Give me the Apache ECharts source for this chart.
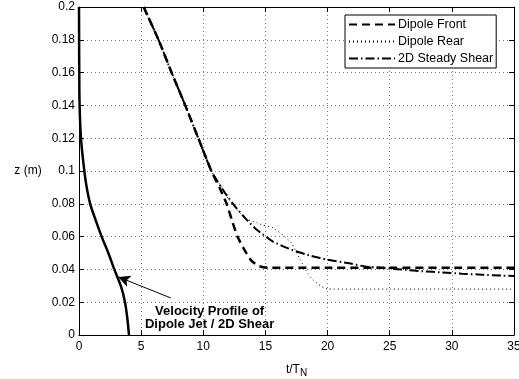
<!DOCTYPE html>
<html>
<head>
<meta charset="utf-8">
<script src="https://cdn.jsdelivr.net/npm/echarts@6/dist/echarts.min.js"></script>
<style>html,body{margin:0;padding:0;background:#fff}#c{width:519px;height:379px}</style>
</head>
<body>
<div id="c"></div>
<script>
// Data: [t/T_N, z (m)]
var seriesNames = ['Dipole Front', 'Dipole Rear', '2D Steady Shear'];
var xTicks = [0, 5, 10, 15, 20, 25, 30, 35];
var yTicks = [0, 0.02, 0.04, 0.06, 0.08, 0.1, 0.12, 0.14, 0.16, 0.18, 0.2];
var dipoleFront = [[5.2,0.2],[6.4,0.18],[7.45,0.16],[8.55,0.14],[9.6,0.12],[10.65,0.1],[11.3,0.09],[11.88,0.08],[12.3,0.07],[12.75,0.06],[13.3,0.052],[13.9,0.045],[14.5,0.042],[15.2,0.041],[20,0.041],[25,0.041],[30,0.041],[35,0.041]];
var dipoleRear = [[5.2,0.2],[6.4,0.18],[7.45,0.16],[8.55,0.14],[9.6,0.12],[10.65,0.1],[11.35,0.0917],[12.15,0.0815],[13.35,0.0713],[14.3,0.0685],[14.8,0.067],[15.6,0.0655],[16.4,0.061],[17.1,0.056],[17.8,0.046],[18.3,0.039],[18.8,0.0337],[19.5,0.0296],[20,0.028],[25,0.028],[30,0.028],[35,0.028]];
var steadyShear = [[5.2,0.2],[6.4,0.18],[7.45,0.16],[8.55,0.14],[9.6,0.12],[10.65,0.1],[11.75,0.0866],[12.6,0.078],[13.4,0.071],[14.3,0.0642],[15.6,0.057],[17.1,0.052],[18.6,0.0484],[20,0.0459],[21.6,0.0439],[23,0.0418],[24.5,0.0408],[26.1,0.0398],[27.7,0.0388],[29.2,0.0382],[30.8,0.0374],[32.4,0.0368],[34,0.0362],[35,0.036]];
var velocityProfile = [[4.02,0],[3.9,0.0093],[3.7,0.02],[3.38,0.0296],[2.84,0.04],[2.36,0.05],[1.82,0.06],[1.34,0.07],[0.9,0.08],[0.62,0.09],[0.43,0.1],[0.16,0.12],[0.05,0.14],[0.02,0.16],[0.01,0.18],[0.0,0.2]];
var annotationText = 'Velocity Profile of\nDipole Jet / 2D Shear';

var chart = echarts.init(document.getElementById('c'), null, {renderer: 'canvas'});
var font = 'Liberation Sans, Arial, Helvetica, sans-serif';
var gridLine = {show: true, lineStyle: {color: '#7a7a7a', width: 1, type: [1, 3]}};
var axisLine = {show: true, onZero: false, lineStyle: {color: '#000', width: 1}};
var tick = {show: true, inside: true, length: 5, lineStyle: {color: '#000'}};
chart.setOption({
  animation: false,
  backgroundColor: '#fff',
  textStyle: {fontFamily: font},
  grid: {left: 79, right: 5, top: 7, bottom: 44, containLabel: false, outerBoundsMode: 'none'},
  legend: {
    data: seriesNames,
    orient: 'vertical',
    left: 345, top: 15,
    padding: [3, 3, 3, 3],
    itemWidth: 46, itemHeight: 14, itemGap: 4,
    backgroundColor: '#fff',
    borderColor: '#000', borderWidth: 1,
    itemStyle: {opacity: 0},
    textStyle: {fontSize: 12.5, color: '#000', fontFamily: font, width: 111, overflow: 'none', padding: [0, 0, 0, -2]}
  },
  xAxis: [{
    type: 'value', min: xTicks[0], max: xTicks[xTicks.length - 1], interval: 5,
    name: '{a|t/T}{b|N}', nameLocation: 'middle', nameGap: 24,
    nameTextStyle: {rich: {a: {fontSize: 12, color: '#000', fontFamily: font, verticalAlign: 'top', lineHeight: 14}, b: {fontSize: 10, color: '#000', fontFamily: font, verticalAlign: 'bottom', lineHeight: 14, padding: [10, 0, 0, 0]}}},
    axisLine: axisLine, axisTick: tick,
    axisLabel: {color: '#000', fontSize: 12, margin: 6, fontFamily: font},
    splitLine: gridLine
  }, {
    type: 'value', position: 'top', min: xTicks[0], max: xTicks[xTicks.length - 1], interval: 5,
    axisLine: axisLine, axisTick: tick, axisLabel: {show: false}, splitLine: {show: false}
  }],
  yAxis: [{
    type: 'value', min: yTicks[0], max: yTicks[yTicks.length - 1], interval: 0.02,
    name: 'z (m)', nameLocation: 'middle', nameRotate: 0, nameGap: 51,
    nameTextStyle: {fontSize: 12, color: '#000', align: 'center', verticalAlign: 'middle', fontFamily: font},
    axisLine: axisLine, axisTick: tick,
    axisLabel: {color: '#000', fontSize: 12, margin: 4, fontFamily: font},
    splitLine: gridLine
  }, {
    type: 'value', position: 'right', min: yTicks[0], max: yTicks[yTicks.length - 1], interval: 0.02,
    axisLine: axisLine, axisTick: tick, axisLabel: {show: false}, splitLine: {show: false}
  }],
  series: [{
    name: 'Velocity Profile', type: 'line', data: velocityProfile, smooth: 0.4,
    symbol: 'none', lineStyle: {color: '#000', width: 2.5}, z: 3,
    markLine: {
      silent: true, symbol: ['none', 'arrow'], symbolSize: [9, 12],
      lineStyle: {color: '#000', width: 1, type: 'solid'}, label: {show: false},
      data: [[{coord: [7.38, 0.0226]}, {coord: [3.16, 0.0354]}]]
    },
    markPoint: {
      silent: true, symbol: 'circle', symbolSize: 0,
      label: {show: true, position: 'inside', formatter: annotationText, fontSize: 13, fontWeight: 'bold', color: '#000', lineHeight: 13.5, align: 'center', fontFamily: font},
      data: [{coord: [10.51, 0.0104]}]
    }
  }, {
    name: seriesNames[1], type: 'line', data: dipoleRear, symbol: 'none', smooth: 0.15,
    lineStyle: {color: '#000', width: 1, type: [1, 3]}, itemStyle: {color: '#000'}
  }, {
    name: seriesNames[2], type: 'line', data: steadyShear, symbol: 'none', smooth: 0.15,
    lineStyle: {color: '#000', width: 2, type: [9, 3, 1.5, 3]}, itemStyle: {color: '#000'}
  }, {
    name: seriesNames[0], type: 'line', data: dipoleFront, symbol: 'none', smooth: 0.15,
    lineStyle: {color: '#000', width: 2.5, type: [8, 5]}, itemStyle: {color: '#000'}
  }]
});
</script>
</body>
</html>
